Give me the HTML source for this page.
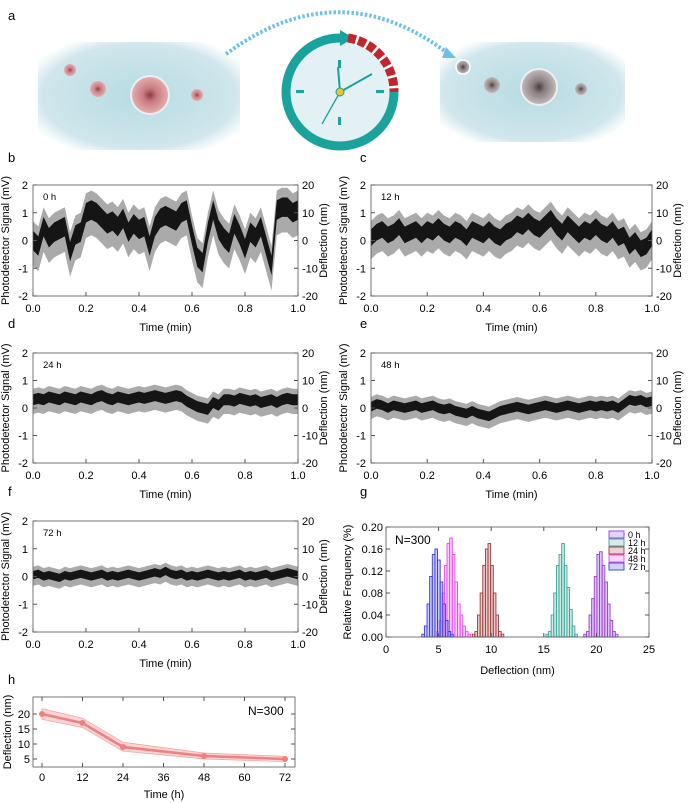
<!DOCTYPE html>
<html><head><meta charset="utf-8"><style>
body{margin:0;background:#fff}
svg{display:block;font-family:"Liberation Sans",Arial,sans-serif}
</style></head><body>
<svg id="fig" width="689" height="803" viewBox="0 0 689 803">
<defs>
<radialGradient id="bg1" cx="50%" cy="50%" r="60%"><stop offset="0" stop-color="#b7dbe3"/><stop offset="0.8" stop-color="#cfe6ec"/><stop offset="1" stop-color="#fff"/></radialGradient>
<radialGradient id="cellR" cx="50%" cy="50%" r="50%"><stop offset="0" stop-color="#8a3a45"/><stop offset="0.35" stop-color="#c77a80"/><stop offset="1" stop-color="#e6b0b0"/></radialGradient>
<radialGradient id="cellG" cx="50%" cy="50%" r="50%"><stop offset="0" stop-color="#4a3a3f"/><stop offset="0.35" stop-color="#8a7f80"/><stop offset="1" stop-color="#c5bcbc"/></radialGradient>
</defs>
<g>
<text x="8" y="20" font-size="13">a</text>
<rect x="38" y="42" width="202" height="108" fill="url(#bg1)"/>
<circle cx="70" cy="70" r="6" fill="url(#cellR)"/>
<circle cx="98" cy="89" r="8" fill="url(#cellR)"/>
<circle cx="150" cy="95" r="19" fill="url(#cellR)" stroke="#e8f0f2" stroke-width="2"/>
<circle cx="197" cy="95" r="6" fill="url(#cellR)"/>
<rect x="440" y="42" width="185" height="100" fill="url(#bg1)"/>
<circle cx="463" cy="67" r="7" fill="url(#cellG)" stroke="#fff" stroke-width="1.5"/>
<circle cx="492" cy="85" r="8" fill="url(#cellG)"/>
<circle cx="539" cy="87" r="18" fill="url(#cellG)" stroke="#eee" stroke-width="2"/>
<circle cx="581" cy="89" r="6" fill="url(#cellG)"/>
<path d="M226,54 Q340,-30 450,55" fill="none" stroke="#6fc0e8" stroke-width="4" stroke-dasharray="2.5,2"/>
<polygon points="446,47 456,58 442,58" fill="#6fc0e8"/>
<g>
<circle cx="340" cy="92" r="50" fill="#e3f1f5"/>
<path d="M340,146 A54,54 0 1,1 340,38" fill="none" stroke="#1aa39c" stroke-width="9"/>
<polygon points="340,30 354,38 340,46" fill="#1aa39c"/>
<path d="M348,38 A54,54 0 0,1 394,92" fill="none" stroke="#c0272d" stroke-width="9" stroke-dasharray="8,2.5"/>
<path d="M394,92 A54,54 0 0,1 340,146" fill="none" stroke="#1aa39c" stroke-width="9"/>
<rect x="338" y="60" width="3" height="8" fill="#1aa39c"/><rect x="338" y="117" width="3" height="8" fill="#1aa39c"/>
<rect x="296" y="90" width="8" height="3" fill="#1aa39c"/><rect x="376" y="90" width="8" height="3" fill="#1aa39c"/>
<line x1="340" y1="92" x2="338" y2="67" stroke="#1aa39c" stroke-width="2"/>
<line x1="340" y1="92" x2="372" y2="74" stroke="#1aa39c" stroke-width="2"/>
<line x1="340" y1="92" x2="322" y2="124" stroke="#1aa39c" stroke-width="1.3"/>
<circle cx="340" cy="92" r="4" fill="#f2c12e" stroke="#1aa39c"/>
</g>
</g>
<g id="charts"></g>
</svg>
<script>
// ---------- data ----------
const traceStep = 0.02;
const trace0h  = [0,-0.2,0.5,0.1,0.3,0.4,0.5,-0.4,0.2,0.3,1.0,1.1,1.0,0.8,0.6,0.7,0.5,0.8,0.3,0.6,0.4,0.5,-0.2,0.5,0.8,0.9,0.8,0.7,1.0,1.1,0.2,-0.6,-0.8,0.3,1.1,0.4,0.1,-0.1,0.6,0.2,-0.3,0.3,0.1,0.5,-0.2,-0.9,1.1,1.2,1.2,1.0,1.1];
const trace12h = [0.1,0.3,0.4,0.2,0.3,0.5,0.2,0.3,0.4,0.2,0.4,0.3,0.5,0.3,0.2,0.4,0.3,0.1,0.4,0.3,0.2,0.4,0.2,0.1,0.3,0.4,0.6,0.5,0.7,0.5,0.4,0.6,0.8,0.5,0.3,0.6,0.4,0.2,0.4,0.3,0.5,0.3,0.2,0.4,0.1,0.2,-0.2,0.0,-0.3,-0.2,0.1];
const trace24h = [0.3,0.35,0.3,0.4,0.35,0.3,0.4,0.35,0.3,0.4,0.35,0.3,0.4,0.45,0.35,0.3,0.4,0.35,0.3,0.35,0.4,0.35,0.4,0.45,0.4,0.35,0.4,0.45,0.4,0.25,0.15,0.05,0.0,-0.05,0.2,0.1,0.3,0.3,0.25,0.35,0.3,0.25,0.3,0.2,0.25,0.3,0.2,0.3,0.35,0.3,0.3];
const trace48h = [0.05,0.15,0.1,0.0,0.1,0.05,0.0,0.05,0.1,0.0,0.05,0.1,0.0,-0.05,0.0,-0.1,-0.15,-0.2,-0.1,-0.2,-0.25,-0.3,-0.2,-0.1,-0.05,0.0,0.05,0.0,-0.05,0.0,0.05,0.1,0.05,0.0,0.05,0.1,0.05,0.0,0.05,0.1,0.05,0.1,0.05,0.1,0.0,0.15,0.3,0.25,0.3,0.2,0.25];
const trace72h = [0.05,0.1,0.0,0.05,0.0,-0.05,0.05,0.0,0.05,0.1,0.05,0.0,0.05,0.1,0.0,0.05,0.0,0.05,0.1,0.05,0.0,0.05,0.1,0.15,0.1,0.2,0.1,0.05,0.1,0.0,0.05,0.0,0.05,0.1,0.05,0.0,0.05,0.0,0.05,0.1,0.0,0.05,0.0,0.05,0.1,0.0,0.05,0.1,0.15,0.1,0.05];
const traceAmp = [0.7,0.6,0.4,0.35,0.3];
const traceLabels = ["0 h","12 h","24 h","48 h","72 h"];
const yTicksLeft = [2,1,0,-1,-2];
const yTicksRight = [20,10,0,-10,-20];
const xTicks = [0,0.2,0.4,0.6,0.8,1.0];

const histBinWidth = 0.25;
const histStart = [18.8,15.2,8.2,4.8,3.4];
const hist0h  = [0.005,0.01,0.04,0.07,0.11,0.15,0.155,0.13,0.1,0.06,0.03,0.01,0.005];
const hist12h = [0.005,0.01,0.04,0.08,0.13,0.15,0.17,0.13,0.09,0.05,0.02,0.005];
const hist24h = [0.005,0.01,0.04,0.08,0.13,0.16,0.17,0.13,0.08,0.04,0.01,0.005];
const hist48h = [0.01,0.03,0.08,0.13,0.17,0.18,0.15,0.1,0.06,0.04,0.02,0.01,0.005];
const hist72h = [0.005,0.02,0.06,0.11,0.15,0.16,0.14,0.1,0.06,0.03,0.01,0.005];
const histNames = ["0 h","12 h","24 h","48 h","72 h"];
const histColors = ["#9b3fd8","#3aa596","#9c3a3a","#ee44ee","#3a3ae0"];
const histFills = ["#c9a0f0","#a8dcd4","#d9a8a8","#f7b0f7","#a8a8f5"];
const histXTicks = [0,5,10,15,20,25];
const histYTicks = [0,0.04,0.08,0.12,0.16,0.20];

const hTimes = [0,12,24,48,72];
const hMean = [20,17,9,6,5];
const hLow = [18.2,15.5,7.6,5.0,4.1];
const hHigh = [21.8,18.6,10.6,7.0,5.9];
const hXTicks = [0,12,24,36,48,60,72];
const hYTicks = [5,10,15,20];

// ---------- helpers ----------
const NS="http://www.w3.org/2000/svg";
const root=document.getElementById('charts');
function mk(tag,attrs,parent,txt){const e=document.createElementNS(NS,tag);for(const k in attrs)e.setAttribute(k,attrs[k]);if(txt!==undefined)e.textContent=txt;(parent||root).appendChild(e);return e;}
function lin(d0,d1,r0,r1){return v=>r0+(v-d0)/(d1-d0)*(r1-r0);}
const FS=11;

const panels=[
 {d:trace0h,x0:33,x1:298,yt:185,yb:296,letter:"b",lx:8,ly:162},
 {d:trace12h,x0:371,x1:652,yt:185,yb:296,letter:"c",lx:360,ly:162},
 {d:trace24h,x0:33,x1:298,yt:353,yb:463,letter:"d",lx:8,ly:328},
 {d:trace48h,x0:371,x1:652,yt:353,yb:463,letter:"e",lx:360,ly:328},
 {d:trace72h,x0:33,x1:298,yt:521,yb:632,letter:"f",lx:8,ly:496}
];
panels.forEach((p,i)=>{
 const g=mk('g',{});
 
 
 const lt=mk('text',{x:p.lx,y:p.ly,'font-size':13},g,p.letter);
 
 
 const X=lin(0,1,p.x0,p.x1),Y=lin(-2,2,p.yb,p.yt);
 const amp=traceAmp[i];
 const clip=v=>Math.max(-2,Math.min(2,v));
 let up=[],dn=[];
 p.d.forEach((v,k)=>{up.push(X(k*traceStep)+','+Y(clip(v+amp)));dn.unshift(X(k*traceStep)+','+Y(clip(v-amp*1.3)));});
 const band=mk('polygon',{points:up.concat(dn).join(' '),fill:'#aaa'},g);
 
 
 let up2=[],dn2=[];
 p.d.forEach((v,k)=>{up2.push(X(k*traceStep)+','+Y(clip(v+amp*0.5)));dn2.unshift(X(k*traceStep)+','+Y(clip(v-amp*0.5)));});
 const core=mk('polygon',{points:up2.concat(dn2).join(' '),fill:'#151515'},g);
 
 
 const fr=mk('rect',{x:p.x0,y:p.yt,width:p.x1-p.x0,height:p.yb-p.yt,fill:'none',stroke:'#555','stroke-width':0.8},g);
 
 
 yTicksLeft.forEach((t,k)=>{
  const y=Y(t);
  mk('line',{x1:p.x0,x2:p.x0+4,y1:y,y2:y,stroke:'#555'},g);
  mk('line',{x1:p.x1,x2:p.x1-4,y1:y,y2:y,stroke:'#555'},g);
  const a=mk('text',{x:p.x0-5,y:y+4,'font-size':FS,'text-anchor':'end'},g,t);
  
  
  const b=mk('text',{x:p.x1+4,y:y+4,'font-size':FS},g,yTicksRight[k]);
  
  
 });
 xTicks.forEach(t=>{
  const x=X(t);
  mk('line',{x1:x,x2:x,y1:p.yb,y2:p.yb-4,stroke:'#555'},g);
  const a=mk('text',{x:x,y:p.yb+16,'font-size':FS,'text-anchor':'middle'},g,t.toFixed(1));
  
  
 });
 const xt=mk('text',{x:(p.x0+p.x1)/2,y:p.yb+35,'font-size':FS,'text-anchor':'middle'},g,'Time (min)');
 
 
 const ym=(p.yt+p.yb)/2;
 const yl=mk('text',{x:0,y:0,'font-size':FS,'text-anchor':'middle',transform:`translate(${p.x0-24},${ym}) rotate(-90)`},g,'Photodetector Signal (mV)');
 
 
 const yr=mk('text',{x:0,y:0,'font-size':FS,'text-anchor':'middle',transform:`translate(${p.x1+29},${ym}) rotate(-90)`},g,'Deflection (nm)');
 
 
 const lab=mk('text',{x:p.x0+10,y:p.yt+15,'font-size':9.5},g,traceLabels[i]);
 
 
});

// ---------- panel g histogram ----------
(function(){
 const x0=386,x1=649,yt=527,yb=637;
 const X=lin(0,25,x0,x1),Y=lin(0,0.2,yb,yt);
 const g=mk('g',{});
 
 
 const lt=mk('text',{x:360,y:496,'font-size':13},g,'g');
 
 
 const series=[hist0h,hist12h,hist24h,hist48h,hist72h];
 series.forEach((s,i)=>{
  s.forEach((v,k)=>{
   const a=histStart[i]+k*histBinWidth;
   const r=mk('rect',{x:X(a),y:Y(v),width:X(a+histBinWidth)-X(a),height:Y(0)-Y(v),fill:histFills[i],'fill-opacity':0.6,stroke:histColors[i],'stroke-width':0.9},g);
   
   
  });
 });
 const fr=mk('rect',{x:x0,y:yt,width:x1-x0,height:yb-yt,fill:'none',stroke:'#555','stroke-width':0.8},g);
 
 
 histXTicks.forEach(t=>{const x=X(t);mk('line',{x1:x,x2:x,y1:yb,y2:yb-4,stroke:'#555'},g);mk('line',{x1:x,x2:x,y1:yt,y2:yt+4,stroke:'#555'},g);
  const a=mk('text',{x:x,y:yb+16,'font-size':FS,'text-anchor':'middle'},g,t);
  
  });
 histYTicks.forEach(t=>{const y=Y(t);mk('line',{x1:x0,x2:x0+4,y1:y,y2:y,stroke:'#555'},g);mk('line',{x1:x1,x2:x1-4,y1:y,y2:y,stroke:'#555'},g);
  const a=mk('text',{x:x0-3,y:y+4,'font-size':FS,'text-anchor':'end'},g,t.toFixed(2));
  
  });
 const xt=mk('text',{x:(x0+x1)/2,y:yb+37,'font-size':FS,'text-anchor':'middle'},g,'Deflection (nm)');
 
 
 const yl=mk('text',{x:0,y:0,'font-size':FS,'text-anchor':'middle',transform:`translate(${x0-35},${(yt+yb)/2}) rotate(-90)`},g,'Relative Frequency (%)');
 
 
 const n=mk('text',{x:x0+9,y:yt+17,'font-size':12},g,'N=300');
 
 
 histNames.forEach((nm,i)=>{
  const y=yt+7+i*8;
  const lg=mk('g',{},g);
  
  
  mk('rect',{x:609,y:y-3,width:15,height:7,fill:histFills[i],'fill-opacity':0.5,stroke:histColors[i],'stroke-width':0.9},lg);
  mk('text',{x:628,y:y+4,'font-size':9},lg,nm);
 });
})();

// ---------- panel h ----------
(function(){
 const bx0=33,bx1=295,yt=697,yb=767;
 const X=lin(0,72,42,285),Y=lin(5,20,759,714);
 const g=mk('g',{});
 
 
 const lt=mk('text',{x:8,y:684,'font-size':13},g,'h');
 
 
 let up=[],dn=[];
 hTimes.forEach((t,k)=>{up.push(X(t)+','+Y(hHigh[k]));dn.unshift(X(t)+','+Y(hLow[k]));});
 const band=mk('polygon',{points:up.concat(dn).join(' '),fill:'#f9d4d4',stroke:'#f0a0a0','stroke-width':0.7},g);
 
 
 const line=mk('polyline',{points:hTimes.map((t,k)=>X(t)+','+Y(hMean[k])).join(' '),fill:'none',stroke:'#ee8080','stroke-width':2.5},g);
 
 
 hTimes.forEach((t,k)=>{const c=mk('circle',{cx:X(t),cy:Y(hMean[k]),r:3,fill:'#ee8080'},g);
  
  });
 const fr=mk('rect',{x:bx0,y:yt,width:bx1-bx0,height:yb-yt,fill:'none',stroke:'#555','stroke-width':0.8},g);
 
 
 hXTicks.forEach(t=>{const x=X(t);mk('line',{x1:x,x2:x,y1:yb,y2:yb-4,stroke:'#555'},g);mk('line',{x1:x,x2:x,y1:yt,y2:yt+4,stroke:'#555'},g);
  const a=mk('text',{x:x,y:yb+14,'font-size':FS,'text-anchor':'middle'},g,t);
  
  });
 hYTicks.forEach(t=>{const y=Y(t);mk('line',{x1:bx0,x2:bx0+4,y1:y,y2:y,stroke:'#555'},g);mk('line',{x1:bx1,x2:bx1-4,y1:y,y2:y,stroke:'#555'},g);
  const a=mk('text',{x:bx0-3,y:y+4,'font-size':FS,'text-anchor':'end'},g,t);
  
  });
 const xt=mk('text',{x:(bx0+bx1)/2,y:yb+31,'font-size':FS,'text-anchor':'middle'},g,'Time (h)');
 
 
 const yl=mk('text',{x:0,y:0,'font-size':FS,'text-anchor':'middle',transform:`translate(11,${(yt+yb)/2}) rotate(-90)`},g,'Deflection (nm)');
 
 
 const n=mk('text',{x:248,y:715,'font-size':12},g,'N=300');
 
 
})();
</script>
</body></html>
